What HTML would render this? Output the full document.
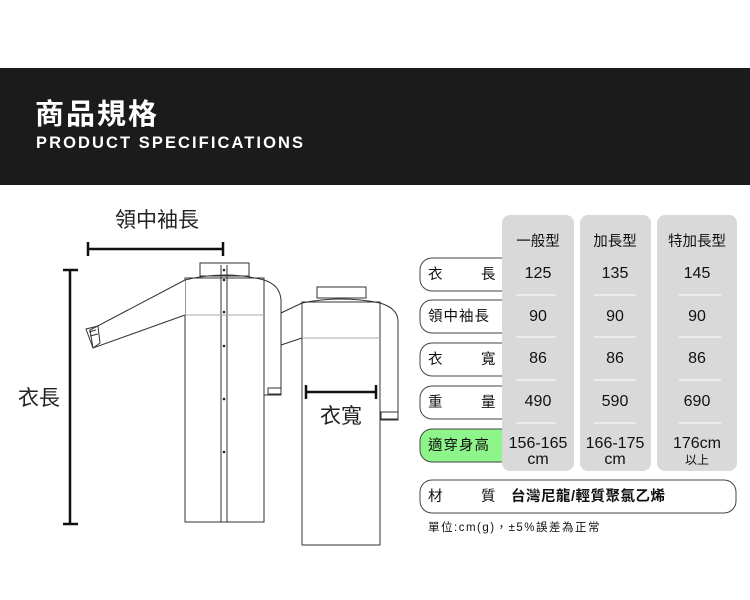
<!DOCTYPE html>
<html><head><meta charset="utf-8"><style>
html,body{margin:0;padding:0;background:#fff;width:750px;height:600px;overflow:hidden}
svg{display:block}
text{font-family:"Liberation Sans","Noto Sans CJK TC",sans-serif}
</style></head><body>
<svg width="750" height="600" viewBox="0 0 750 600" xmlns="http://www.w3.org/2000/svg">
<rect x="0" y="68" width="750" height="117" fill="#1b1b1b"/>
<text x="35" y="124" font-size="29" font-weight="bold" fill="#fff" letter-spacing="2" font-family="Noto Sans CJK TC, sans-serif">商品規格</text>
<text x="36" y="148" font-size="16.5" fill="#fff" font-weight="bold" textLength="267" lengthAdjust="spacing">PRODUCT SPECIFICATIONS</text>

<g fill="none" stroke="#333" stroke-width="1">
<path d="M281,313 L302,303 M281,345 L302,338"/>
<rect x="302" y="302" width="78" height="243" fill="#fff"/>
<path d="M302,303 Q341,295 380,303"/>
<rect x="317" y="287" width="49" height="11" fill="#fff"/>
<path d="M380,303 Q397,308 398,320 L398,420 L380,420"/>
<rect x="381" y="412" width="17" height="7" fill="#fff"/>
<line x1="302" y1="338" x2="380" y2="338" stroke="#aaa"/>
<rect x="185" y="278" width="79" height="244" fill="#fff"/>
<rect x="200" y="263" width="49" height="13" fill="#fff"/>
<path d="M185,280 Q225,270 264,280"/>
<line x1="221" y1="265" x2="221" y2="522"/><line x1="227" y1="265" x2="227" y2="522"/>
<line x1="185" y1="315" x2="264" y2="315" stroke="#aaa"/>
<path d="M185,280 L90,330 L93,348 L185,315" fill="#fff"/>
<path d="M86,329 L98,326 L100,343 L93,348 Z M89,332 L96,330 M90,336 L98,334"/>
<path d="M264,280 Q280,285 281,300 L281,395 L264,395"/>
<rect x="268" y="388" width="13" height="6" fill="#fff"/>
</g>
<g fill="#222"><circle cx="224" cy="270" r="1.3"/><circle cx="224" cy="280" r="1.3"/><circle cx="224" cy="312" r="1.3"/><circle cx="224" cy="346" r="1.3"/><circle cx="224" cy="399" r="1.3"/><circle cx="224" cy="452" r="1.3"/></g>

<g stroke="#111" stroke-width="2.5" fill="none">
<path d="M88,249 L223,249 M88,242 V256 M223,242 V256"/>
<path d="M70,270 V524 M63,270 H78 M63,524 H78"/>
<path d="M306,392 H376 M306,385 V399 M376,385 V399"/>
</g>
<g font-size="21" fill="#222" text-anchor="middle">
<text x="157" y="227">領中袖長</text>
<text x="39" y="405">衣長</text>
<text x="341" y="423">衣寬</text>
</g>

<g fill="#fff" stroke="#444" stroke-width="1">
<rect x="420" y="258" width="100" height="33" rx="12"/>
<rect x="420" y="300" width="100" height="33" rx="12"/>
<rect x="420" y="343" width="100" height="33" rx="12"/>
<rect x="420" y="386" width="100" height="33" rx="12"/>
<rect x="420" y="429" width="100" height="33" rx="12" fill="#8ef58a"/>
<rect x="420" y="480" width="316" height="33" rx="12"/>
</g>
<g fill="#d9d9d9">
<rect x="502" y="215" width="72" height="256" rx="8"/>
<rect x="580" y="215" width="71" height="256" rx="8"/>
<rect x="657" y="215" width="80" height="256" rx="8"/>
</g>
<g stroke="#fff" stroke-width="1">
<path d="M516,295 H556 M594,295 H636 M679,295 H721"/>
<path d="M516,337 H556 M594,337 H636 M679,337 H721"/>
<path d="M516,380 H556 M594,380 H636 M679,380 H721"/>
<path d="M516,423 H556 M594,423 H636 M679,423 H721"/>
</g>
<g font-size="14.5" fill="#111" font-family="Noto Sans CJK TC, sans-serif">
<text x="428" y="279">衣</text><text x="481" y="279">長</text>
<text x="428" y="321" letter-spacing="1">領中袖長</text>
<text x="428" y="364">衣</text><text x="481" y="364">寬</text>
<text x="428" y="407">重</text><text x="481" y="407">量</text>
<text x="428" y="450" letter-spacing="1">適穿身高</text>
<text x="428" y="501">材</text><text x="481" y="501">質</text>
<text x="511" y="501" font-weight="bold" letter-spacing="0.5">台灣尼龍/輕質聚氯乙烯</text>
<text x="428" y="531" font-size="11.5" letter-spacing="1.5">單位:cm(g)，±5%誤差為正常</text>
</g>
<g font-size="14.5" fill="#111" text-anchor="middle">
<text x="538" y="246" font-family="Noto Sans CJK TC, sans-serif">一般型</text>
<text x="615" y="246" font-family="Noto Sans CJK TC, sans-serif">加長型</text>
<text x="697" y="246" font-family="Noto Sans CJK TC, sans-serif">特加長型</text>
<g font-size="16">
<text x="538" y="278">125</text><text x="615" y="278">135</text><text x="697" y="278">145</text>
<text x="538" y="321">90</text><text x="615" y="321">90</text><text x="697" y="321">90</text>
<text x="538" y="363">86</text><text x="615" y="363">86</text><text x="697" y="363">86</text>
<text x="538" y="406">490</text><text x="615" y="406">590</text><text x="697" y="406">690</text>
<text x="538" y="448">156-165</text><text x="615" y="448">166-175</text><text x="697" y="448">176cm</text>
<text x="538" y="464">cm</text><text x="615" y="464">cm</text>
</g>
<text x="697" y="464" font-size="12" font-family="Noto Sans CJK TC, sans-serif">以上</text>
</g>
</svg>
</body></html>
